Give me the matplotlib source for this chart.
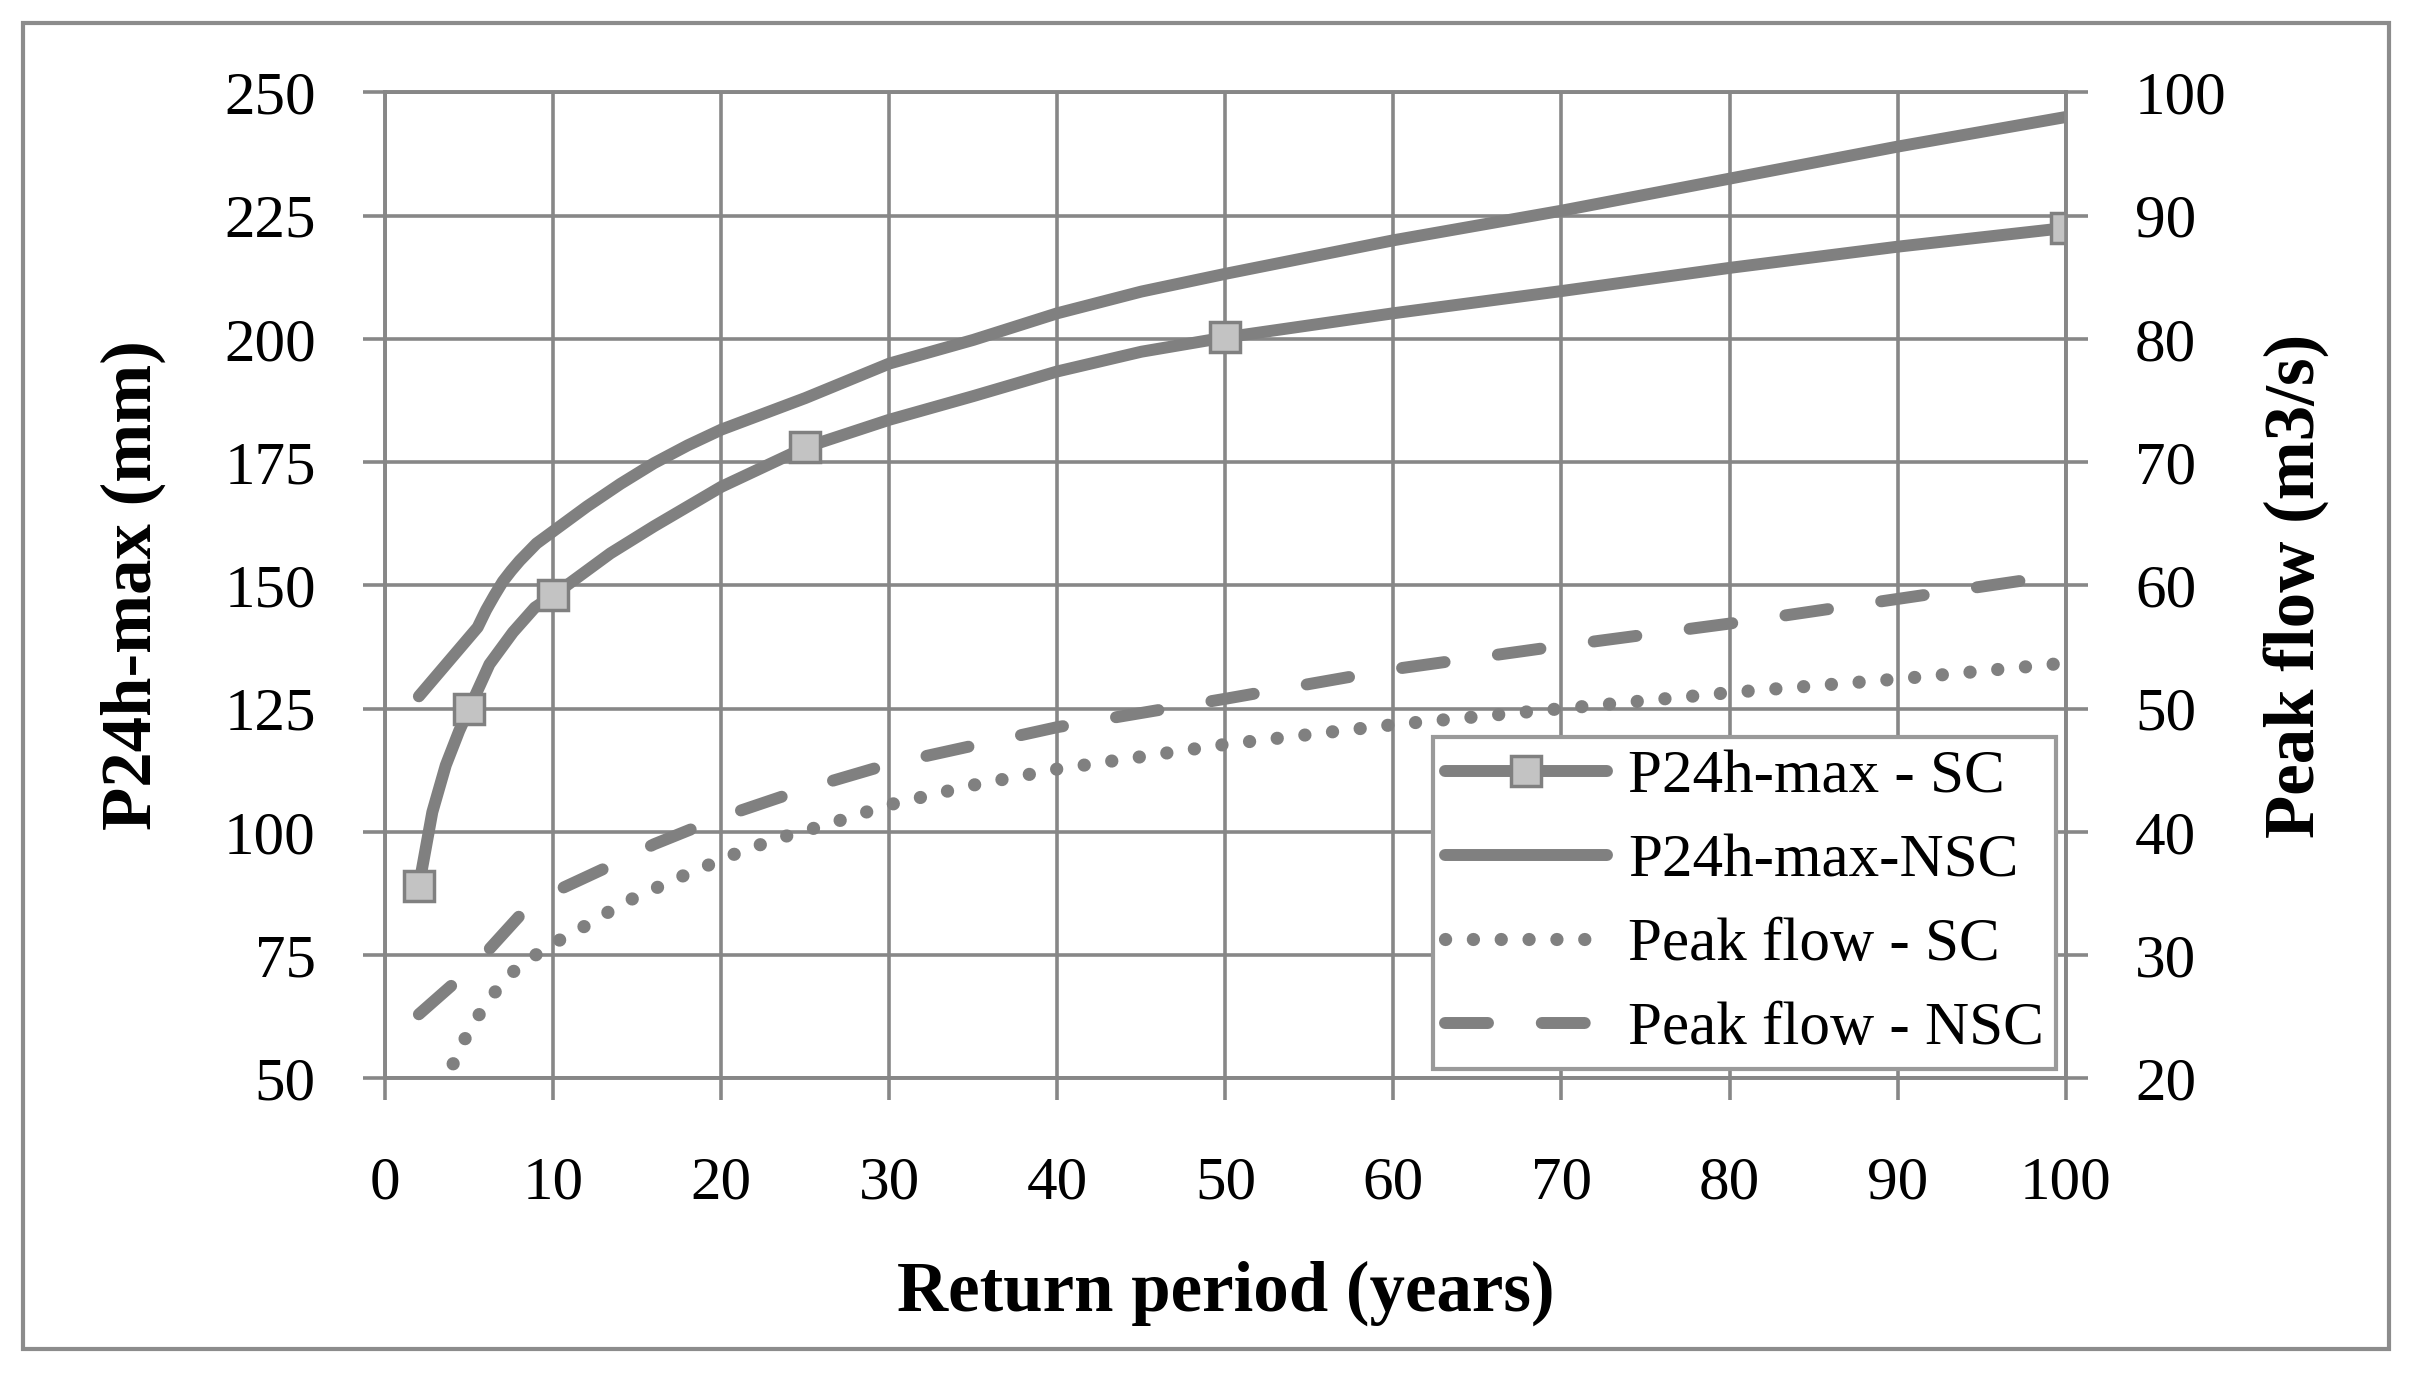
import numpy as np
import matplotlib
matplotlib.use('Agg')
import matplotlib.pyplot as plt
from matplotlib.patches import Rectangle

plt.rcParams['font.family'] = ['Liberation Serif', 'DejaVu Serif']

# return period (years) and values
p_sc_T = [2, 2.8, 3.6, 4.4, 5, 6.2, 7.6, 8.9, 10, 13.4, 16, 20, 25, 30, 35, 40,
          45, 50, 60, 70, 80, 90, 100]
p_sc = [89, 104, 113.5, 120.5, 125, 134, 140.5, 145.5, 148, 156.5, 162, 170,
        178, 183.6, 188.4, 193.4, 197.4, 200.3, 205.2, 209.7, 214.4, 218.7, 222.5]
sc_marks = [2, 5, 10, 25, 50, 100]

p_nsc_T = [2, 3, 4, 5, 5.5, 6, 6.5, 7, 7.5, 8, 9, 10, 12, 14, 16, 18, 20, 25,
           30, 35, 40, 45, 50, 60, 70, 80, 90, 100]
p_nsc = [127.5, 131.5, 135.5, 139.5, 141.5, 145, 148, 150.8, 153, 155, 158.5,
         161, 166, 170.6, 174.8, 178.4, 181.6, 188, 195, 199.8, 205.2, 209.6,
         213.2, 220, 226, 232.5, 239, 245]

q_sc_T = [2, 3, 3.85, 4.5, 5.3, 6.2, 7.2, 8.4, 9.8, 11.3, 12.7, 14.1, 15.6,
          17.1, 18.6, 20, 23.2, 26.3, 30, 35, 40, 50, 60, 70, 80, 90, 100]
q_sc = [15, 18, 20.6, 22.6, 24.6, 26.4, 28.2, 29.5, 30.8, 31.9, 33.0, 34.2,
        35.1, 36.1, 36.9, 37.8, 39.4, 40.6, 42.2, 43.8, 45.1, 47.1, 48.7, 50.0,
        51.3, 52.4, 53.7]

q_nsc_T = [2, 4, 6.2, 8, 10, 13, 16, 20, 25, 30, 35, 40, 50, 60, 70, 80, 90, 100]
q_nsc = [25.2, 27.6, 30.5, 33.2, 35.1, 37.0, 39.0, 41.2, 43.5, 45.5, 47.0,
         48.5, 50.8, 53.2, 55.1, 56.9, 58.9, 60.9]

x_ticks = list(range(0, 101, 10))
left_ticks = list(range(50, 251, 25))
right_ticks = list(range(20, 101, 10))

GREY = '#808080'
GRID = '#878787'
FS = 44
LFS = 51

fig = plt.figure(figsize=(24.17, 13.79), dpi=100)
fig.patches.append(Rectangle((0.0096, 0.022), 0.979, 0.961, transform=fig.transFigure,
                             fill=False, edgecolor='#8c8c8c', linewidth=3))

ax1 = fig.add_axes([0.1594, 0.218, 0.6952, 0.715])
ax2 = ax1.twinx()

ax1.set_xlim(0, 100)
ax1.set_ylim(50, 250)
ax2.set_ylim(20, 100)
ax1.set_xticks(x_ticks)
ax1.set_yticks(left_ticks)
ax2.set_yticks(right_ticks)
ax1.grid(True, color=GRID, linewidth=2.6)
ax1.set_axisbelow(True)

for ax in (ax1, ax2):
    for s in ax.spines.values():
        s.set_color(GRID)
        s.set_linewidth(2.6)
    ax.tick_params(length=16, width=2.6, color=GRID, labelsize=FS)
ax1.tick_params(axis='x', pad=40)
ax1.tick_params(axis='y', pad=34)
ax2.tick_params(axis='y', pad=34)

marks = [i for i, t in enumerate(p_sc_T) if t in sc_marks]
l1, = ax1.plot(p_sc_T, p_sc, color=GREY, lw=8.6, marker='s', markevery=marks,
               markersize=22, markerfacecolor='#c3c3c3', markeredgecolor=GREY,
               markeredgewidth=2.5, solid_capstyle='round', solid_joinstyle='round',
               zorder=3, label='P24h-max - SC')
l2, = ax1.plot(p_nsc_T, p_nsc, color=GREY, lw=8.6, solid_capstyle='round',
               solid_joinstyle='round', zorder=3, label='P24h-max-NSC')
l3, = ax2.plot(q_sc_T, q_sc, color=GREY, lw=9.5, linestyle=(0, (0.01, 2.1)),
               dash_capstyle='round', zorder=3, label='Peak flow - SC')
l4, = ax2.plot(q_nsc_T, q_nsc, color=GREY, lw=8.6, linestyle=(0, (3.6, 4.5)),
               dash_capstyle='round', zorder=3, label='Peak flow - NSC')

ax1.set_xlabel('Return period (years)', fontsize=LFS, fontweight='bold', labelpad=35)
ax1.set_ylabel('P24h-max (mm)', fontsize=LFS, fontweight='bold', labelpad=42)
ax2.set_ylabel('Peak flow (m3/s)', fontsize=LFS, fontweight='bold', labelpad=26)

leg = ax2.legend(handles=[l1, l2, l3, l4], loc='lower right', fontsize=FS,
                 frameon=True, fancybox=False, framealpha=1, edgecolor='#9a9a9a',
                 borderaxespad=0.15, handlelength=2.65, handletextpad=0.35,
                 labelspacing=0.46, borderpad=0.2)
leg.get_frame().set_linewidth(3)
leg.set_zorder(10)

fig.savefig('out.png', dpi=100)
